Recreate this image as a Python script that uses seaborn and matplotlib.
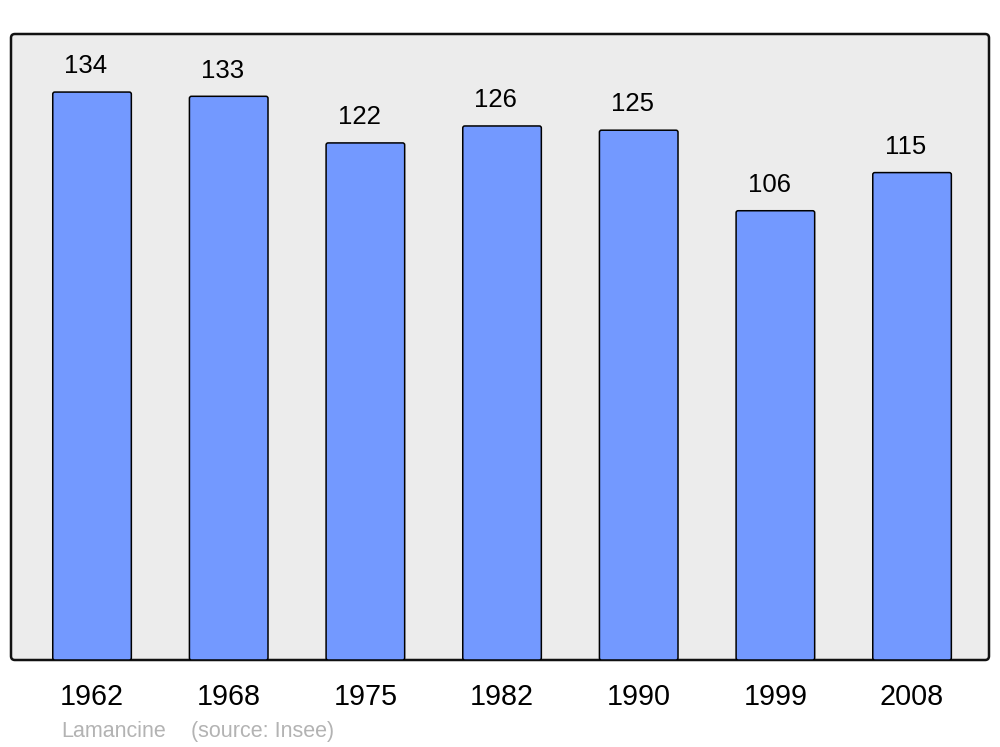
import matplotlib
matplotlib.use("Agg")
import matplotlib.pyplot as plt
import seaborn as sns
import pandas as pd
from matplotlib.patches import FancyBboxPatch

years = ["1962", "1968", "1975", "1982", "1990", "1999", "2008"]
population = [134, 133, 122, 126, 125, 106, 115]
footer_name = "Lamancine"
footer_source = "(source: Insee)"

sns.set_style("white")
plt.rcParams['font.family'] = ['Liberation Sans', 'DejaVu Sans']

df = pd.DataFrame({"year": years, "pop": population})

fig = plt.figure(figsize=(10, 7.47), dpi=100)
ax = fig.add_axes([11/1000, 87/747, 978/1000, 626/747])
ax.set_facecolor("none")

sns.barplot(data=df, x="year", y="pop", ax=ax, color="#7399ff", width=0.575,
            saturation=1, edgecolor="black", linewidth=1.1, zorder=2)

ax.set_xlim(-0.593, 6.563)
ax.set_ylim(0, 147.7)
fig.canvas.draw()
for p in list(ax.patches):
    x, y = p.get_x(), p.get_y()
    w, h = p.get_width(), p.get_height()
    fb = FancyBboxPatch((x, y), w, h,
                        boxstyle="round,pad=0,rounding_size=0.015",
                        mutation_aspect=147.7 / 7.156 * 978 / 626,
                        facecolor="#7399ff", edgecolor="black", linewidth=1.1,
                        zorder=2)
    p.remove()
    ax.add_patch(fb)

for i, v in enumerate(population):
    ax.annotate(str(v), (i - 0.045, v), xytext=(0, 13.5), textcoords="offset points",
                ha="center", va="baseline", fontsize=18.5, color="black")

frame = FancyBboxPatch((0, 0), 1, 1, transform=ax.transAxes,
                       boxstyle="round,pad=0,rounding_size=0.004",
                       mutation_aspect=978 / 626,
                       facecolor="#ececec", edgecolor="#111111", linewidth=1.8,
                       zorder=0, clip_on=False)
ax.add_patch(frame)
for s in ax.spines.values():
    s.set_visible(False)

ax.set_yticks([])
ax.set_xlabel("")
ax.set_ylabel("")
ax.tick_params(axis="x", length=0, pad=16.5, labelsize=20.7, labelcolor="black")

fig.text(61/1000, 1 - 737/747, footer_name, fontsize=15.5, color="#b3b3b3",
         ha="left", va="baseline")
fig.text(191/1000, 1 - 737/747, footer_source, fontsize=15.5, color="#b3b3b3",
         ha="left", va="baseline")

fig.savefig("out.png", dpi=100, facecolor="white")
